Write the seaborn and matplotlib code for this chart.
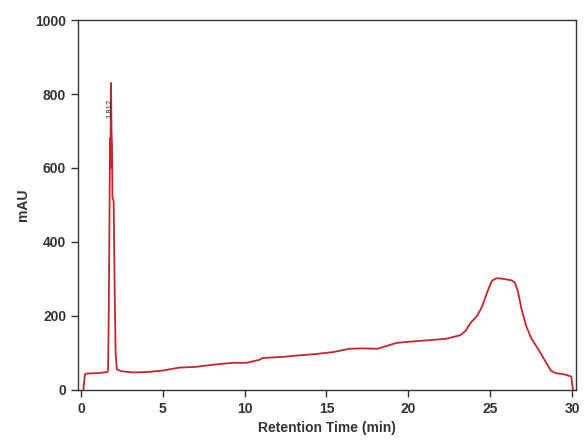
import numpy as np
import pandas as pd
import matplotlib
matplotlib.use("Agg")
import matplotlib.pyplot as plt
import seaborn as sns

# Chromatogram trace
time_min = [0.15, 0.25, 0.35, 1.0, 1.6, 1.66, 1.70, 1.73, 1.76, 1.78, 1.80, 1.84, 1.87, 1.90, 1.93,
            2.00, 2.03, 2.07, 2.12, 2.20, 2.5, 3.2, 4.0, 5.0, 6.0, 7.0, 8.1, 9.3, 10.1, 10.9,
            11.1, 12.3, 13.3, 14.4, 15.4, 16.4, 17.2, 18.1, 19.3, 20.3, 21.5, 22.3, 23.2, 23.5,
            23.8, 24.2, 24.5, 24.8, 25.1, 25.4, 25.8, 26.3, 26.5, 26.7, 26.9, 27.2, 27.5, 27.9,
            28.3, 28.7, 29.0, 29.5, 29.95, 30.05]
mau = [0, 42, 44, 45, 48, 52, 200, 360, 560, 680, 600, 830, 700, 660, 520,
       510, 400, 250, 100, 55, 50, 47, 48, 52, 60, 62, 68, 73, 73, 81,
       86, 89, 93, 97, 102, 111, 112, 111, 127, 131, 135, 138, 148, 160,
       181, 200, 225, 262, 295, 302, 300, 296, 290, 265, 220, 172, 140, 112,
       82, 52, 45, 42, 36, 0]
peak_label = "1.812"
peak_pos = (1.78, 760)

df = pd.DataFrame({"t": time_min, "y": mau})

sns.set_style("ticks")
plt.rcParams["font.family"] = ["Liberation Sans", "DejaVu Sans"]

fig = plt.figure(figsize=(5.86, 4.46), dpi=100)
ax = fig.add_axes([0.133, 0.126, 0.850, 0.829])

sns.lineplot(data=df, x="t", y="y", sort=False, estimator=None,
             color="#c1272d", linewidth=1.3, ax=ax)

ax.text(peak_pos[0], peak_pos[1], peak_label, rotation=90, fontsize=5.5,
        ha="center", va="center", color="#222222")

ax.set_xlim(-0.18, 30.24)
ax.set_ylim(0, 1000)
ax.set_xticks(np.arange(0, 31, 5))
ax.set_yticks(np.arange(0, 1001, 200))
ax.set_xlabel("Retention Time (min)", fontsize=10, fontweight="bold", color="#333333")
ax.set_ylabel("mAU", fontsize=10, fontweight="bold", color="#333333")
ax.tick_params(direction="out", length=5, width=1, labelsize=10, colors="#333333")
for lab in ax.get_xticklabels() + ax.get_yticklabels():
    lab.set_fontweight("bold")
for s in ax.spines.values():
    s.set_visible(True)
    s.set_color("#333333")
    s.set_linewidth(1)

fig.savefig("out.png", dpi=100)
